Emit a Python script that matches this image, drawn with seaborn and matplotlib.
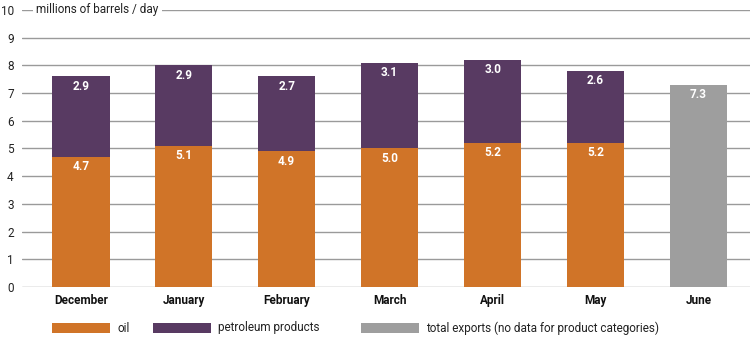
import matplotlib
matplotlib.use("Agg")
import matplotlib.pyplot as plt
import seaborn as sns
import pandas as pd
from matplotlib.patches import Rectangle

months = ["December", "January", "February", "March", "April", "May", "June"]
oil = [4.7, 5.1, 4.9, 5.0, 5.2, 5.2]
products = [2.9, 2.9, 2.7, 3.1, 3.0, 2.6]
june_total = [7.3]

c_oil = "#D07428"
c_prod = "#583A62"
c_total = "#9E9E9E"

sns.set_theme(style="white")
plt.rcParams["font.family"] = ["Roboto", "DejaVu Sans"]

df = pd.DataFrame({"month": months[:6], "oil": oil, "products": products})
df["stack"] = df["oil"] + df["products"]
dj = pd.DataFrame({"month": months[6:], "total": june_total})

fig = plt.figure(figsize=(7.5, 3.48), dpi=100)
ax = fig.add_axes([22 / 750, (348 - 287) / 348, 1 - 22 / 750, (287 - 10) / 348])

w = 0.56
bar_kw = dict(order=months, width=w, saturation=1, ax=ax, zorder=3,
              linewidth=0, edgecolor="none")
sns.barplot(data=df, x="month", y="stack", color=c_prod, **bar_kw)
sns.barplot(data=df, x="month", y="oil", color=c_oil, **bar_kw)
sns.barplot(data=dj, x="month", y="total", color=c_total, **bar_kw)

lab = dict(color="white", fontsize=8.5, fontweight="bold", ha="center", va="top", zorder=5)
for i, (o, p) in enumerate(zip(oil, products)):
    ax.text(i, o - 0.12, f"{o:.1f}", **lab)
    ax.text(i, o + p - 0.12, f"{p:.1f}", **lab)
ax.text(6, june_total[0] - 0.12, f"{june_total[0]:.1f}", **lab)

ax.set_ylim(0, 10)
ax.set_xlim(-0.57, 6.5)
ax.set_yticks(range(0, 11))
ax.yaxis.grid(True, color="#9a9a9a", linewidth=1)
ax.set_axisbelow(True)
for s in ax.spines.values():
    s.set_visible(False)
ax.set_xlabel("")
ax.set_ylabel("")
ax.tick_params(axis="y", length=0, pad=6, labelsize=8.5, labelcolor="#222222")
ax.tick_params(axis="x", length=0, pad=5, labelsize=8.5, labelcolor="#111111")
for t in ax.get_xticklabels():
    t.set_fontweight("bold")

ax.text(-0.43, 10, "millions of barrels / day", fontsize=8.5, color="#222222",
        va="center", ha="left", zorder=4,
        bbox=dict(facecolor="white", edgecolor="none", pad=2.5))

# legend drawn in figure pixels
def fx(px):
    return px / 750

def fy(py):
    return 1 - py / 348

items = [(52, c_oil, "oil"), (153, c_prod, "petroleum products"),
         (361, c_total, "total exports (no data for product categories)")]
for x0, col, txt in items:
    fig.patches.append(Rectangle((fx(x0), fy(333)), fx(58), 10 / 348,
                                 transform=fig.transFigure, facecolor=col,
                                 edgecolor="none"))
    fig.text(fx(x0 + 65), fy(328), txt, fontsize=8.5, color="#222222",
             va="center", ha="left")

fig.savefig("out.png", dpi=100)
